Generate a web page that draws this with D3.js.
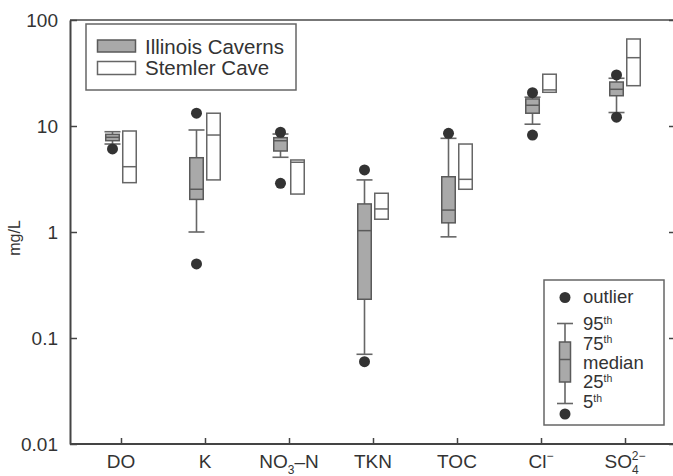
<!DOCTYPE html>
<html><head><meta charset="utf-8">
<script src="https://cdn.jsdelivr.net/npm/d3@7"></script>
<style>
body{margin:0;background:#fff;}
svg{display:block;font-family:"Liberation Sans",Arial,Helvetica,sans-serif;}
</style></head>
<body><svg id="c" width="673" height="476"></svg>
<script>
const categories = ["DO","K","NO3-N","TKN","TOC","Cl","SO4"];
// Illinois Caverns (box + whiskers)
const ilP5   = [6.76, 1.0,  5.07, 0.0702, 0.90, 10.4, 13.4];
const ilP25  = [7.27, 2.03, 5.81, 0.232,  1.22, 13.2, 19.3];
const ilMed  = [7.82, 2.53, 7.26, 1.03,   1.61, 15.7, 22.2];
const ilP75  = [8.35, 5.02, 7.76, 1.84,   3.32, 18.0, 26.0];
const ilP95  = [8.83, 9.17, 8.4,  3.10,   7.65, 18.7, 28.2];
const ilOutliers = [[6.07],[13.2,0.50],[8.73,2.88],[3.85,0.0598],[8.53],[20.6,8.22],[30.3,12.1]];
// Stemler Cave (box only)
const stLow  = [2.92, 3.10, 2.28, 1.32, 2.53, 20.8, 24.0];
const stMed  = [4.13, 8.22, 4.55, 1.65, 3.14, 21.9, 44.1];
const stHigh = [8.97, 13.2, 4.78, 2.32, 6.76, 30.8, 66.2];
const yTicks = [0.01, 0.1, 1, 10, 100];
const yTickLabels = ["0.01","0.1","1","10","100"];

const svg = d3.select("#c");
const L = 70, R = 676, T = 20, B = 444;
const x = d3.scalePoint().domain(categories).range([L, R]).padding(0.607);
const y = d3.scaleLog().domain([0.01, 100]).range([B, T]);
const off = 8.5, bw = 13.5, cw = 16;
const axisCol = "#444", boxStroke = "#5a5a5a", grayFill = "#a9a9a9", dotCol = "#333";

// frame top line
svg.append("line").attr("x1", L).attr("x2", R).attr("y1", T).attr("y2", T)
  .attr("stroke", "#777").attr("stroke-width", 2);

// axes
const yAxis = svg.append("g").attr("transform", `translate(${L},0)`)
  .call(d3.axisRight(y).tickValues(yTicks).tickFormat("").tickSizeInner(7).tickSizeOuter(0));
yAxis.select(".domain").attr("stroke", axisCol).attr("stroke-width", 2);
yAxis.selectAll(".tick line").attr("stroke", axisCol).attr("stroke-width", 1.5);
yTicks.forEach((t, i) => {
  svg.append("text").attr("x", 58).attr("y", y(t)).attr("dy", "0.36em")
    .attr("text-anchor", "end").attr("font-size", 19).attr("fill", "#333").text(yTickLabels[i]);
});
const yAxisR = svg.append("g").attr("transform", `translate(${R},0)`)
  .call(d3.axisLeft(y).tickValues(yTicks).tickFormat("").tickSizeInner(7).tickSizeOuter(0));
yAxisR.select(".domain").attr("stroke", axisCol).attr("stroke-width", 2);
yAxisR.selectAll(".tick line").attr("stroke", axisCol).attr("stroke-width", 1.5);

const xAxis = svg.append("g").attr("transform", `translate(0,${B})`)
  .call(d3.axisTop(x).tickFormat("").tickSizeInner(6).tickSizeOuter(0));
xAxis.select(".domain").attr("stroke", axisCol).attr("stroke-width", 2).attr("d", `M${L},0H${R}`);
xAxis.selectAll(".tick line").attr("stroke", axisCol).attr("stroke-width", 1.5);

// x labels with sub/superscripts
const labY = 468;
function lab(cat) {
  return svg.append("text").attr("x", x(cat)).attr("y", labY).attr("text-anchor", "middle")
    .attr("font-size", 19).attr("fill", "#333");
}
lab("DO").text("DO");
lab("K").text("K");
{ const t = lab("NO3-N"); t.append("tspan").text("NO");
  t.append("tspan").attr("font-size", 12).attr("dy", 6).text("3");
  t.append("tspan").attr("dy", -6).text("–N"); }
lab("TKN").text("TKN");
lab("TOC").text("TOC");
{ const t = lab("Cl"); t.append("tspan").text("Cl");
  t.append("tspan").attr("font-size", 12).attr("dy", -8).text("−"); }
{ const t = lab("SO4"); t.append("tspan").text("SO");
  t.append("tspan").attr("font-size", 12).attr("dy", 6).text("4");
  t.append("tspan").attr("font-size", 12).attr("dx", -7).attr("dy", -14).text("2−"); }

// y label
svg.append("text").attr("transform", "translate(20,238) rotate(-90)").attr("text-anchor", "middle")
  .attr("font-size", 16).attr("fill", "#333").text("mg/L");

// Illinois whiskers + boxes
categories.forEach((c, i) => {
  const cx = x(c) - off;
  const g = svg.append("g");
  g.append("line").attr("x1", cx).attr("x2", cx).attr("y1", y(ilP95[i])).attr("y2", y(ilP5[i]))
    .attr("stroke", "#666").attr("stroke-width", 1.6);
  [ilP95[i], ilP5[i]].forEach(v => g.append("line").attr("x1", cx - cw/2).attr("x2", cx + cw/2)
    .attr("y1", y(v)).attr("y2", y(v)).attr("stroke", "#666").attr("stroke-width", 1.6));
  g.append("rect").attr("x", cx - bw/2).attr("width", bw)
    .attr("y", y(ilP75[i])).attr("height", y(ilP25[i]) - y(ilP75[i]))
    .attr("fill", grayFill).attr("stroke", boxStroke).attr("stroke-width", 1.5);
  g.append("line").attr("x1", cx - bw/2).attr("x2", cx + bw/2).attr("y1", y(ilMed[i])).attr("y2", y(ilMed[i]))
    .attr("stroke", boxStroke).attr("stroke-width", 1.5);
});
// Stemler boxes
categories.forEach((c, i) => {
  const cx = x(c) + off;
  svg.append("rect").attr("x", cx - bw/2).attr("width", bw)
    .attr("y", y(stHigh[i])).attr("height", y(stLow[i]) - y(stHigh[i]))
    .attr("fill", "#fff").attr("stroke", "#666").attr("stroke-width", 1.5);
  svg.append("line").attr("x1", cx - bw/2).attr("x2", cx + bw/2).attr("y1", y(stMed[i])).attr("y2", y(stMed[i]))
    .attr("stroke", "#666").attr("stroke-width", 1.5);
});
// outliers
categories.forEach((c, i) => {
  ilOutliers[i].forEach(v => svg.append("circle").attr("cx", x(c) - off).attr("cy", y(v)).attr("r", 5.5)
    .attr("fill", dotCol));
});

// Legend 1
const lg1 = svg.append("g");
lg1.append("rect").attr("x", 86).attr("y", 24).attr("width", 210).attr("height", 66)
  .attr("fill", "#fff").attr("stroke", "#666").attr("stroke-width", 1.5);
lg1.append("rect").attr("x", 97.5).attr("y", 40).attr("width", 38).attr("height", 12)
  .attr("fill", grayFill).attr("stroke", boxStroke).attr("stroke-width", 1.5);
lg1.append("rect").attr("x", 97.5).attr("y", 61.5).attr("width", 38).attr("height", 13)
  .attr("fill", "#fff").attr("stroke", "#666").attr("stroke-width", 1.5);
lg1.append("text").attr("x", 145).attr("y", 54).attr("font-size", 20.5).attr("fill", "#333").text("Illinois Caverns");
lg1.append("text").attr("x", 145).attr("y", 75).attr("font-size", 20.5).attr("fill", "#333").text("Stemler Cave");

// Legend 2
const lg2 = svg.append("g");
lg2.append("rect").attr("x", 544).attr("y", 280).attr("width", 120).attr("height", 145)
  .attr("fill", "#fff").attr("stroke", "#666").attr("stroke-width", 1.5);
const gx = 565;
lg2.append("circle").attr("cx", gx).attr("cy", 297.5).attr("r", 5.5).attr("fill", dotCol);
lg2.append("line").attr("x1", gx).attr("x2", gx).attr("y1", 323.5).attr("y2", 403.5).attr("stroke", "#666").attr("stroke-width", 1.6);
[323.5, 403.5].forEach(v => lg2.append("line").attr("x1", gx - 8).attr("x2", gx + 8).attr("y1", v).attr("y2", v)
  .attr("stroke", "#666").attr("stroke-width", 1.6));
lg2.append("rect").attr("x", gx - 5.5).attr("width", 11).attr("y", 342).attr("height", 40)
  .attr("fill", grayFill).attr("stroke", boxStroke).attr("stroke-width", 1.5);
lg2.append("line").attr("x1", gx - 5.5).attr("x2", gx + 5.5).attr("y1", 359.5).attr("y2", 359.5)
  .attr("stroke", boxStroke).attr("stroke-width", 1.5);
lg2.append("circle").attr("cx", gx).attr("cy", 414).attr("r", 5.5).attr("fill", dotCol);
const lgItems = [["outlier", "", 303], ["95", "th", 330], ["75", "th", 349.5], ["median", "", 369], ["25", "th", 388], ["5", "th", 408]];
lgItems.forEach(([a, s, by]) => {
  const t = lg2.append("text").attr("x", 583).attr("y", by).attr("font-size", 18.5).attr("fill", "#333");
  t.append("tspan").text(a);
  if (s) t.append("tspan").attr("font-size", 10.5).attr("dy", -6.5).text(s);
});
</script></body></html>
